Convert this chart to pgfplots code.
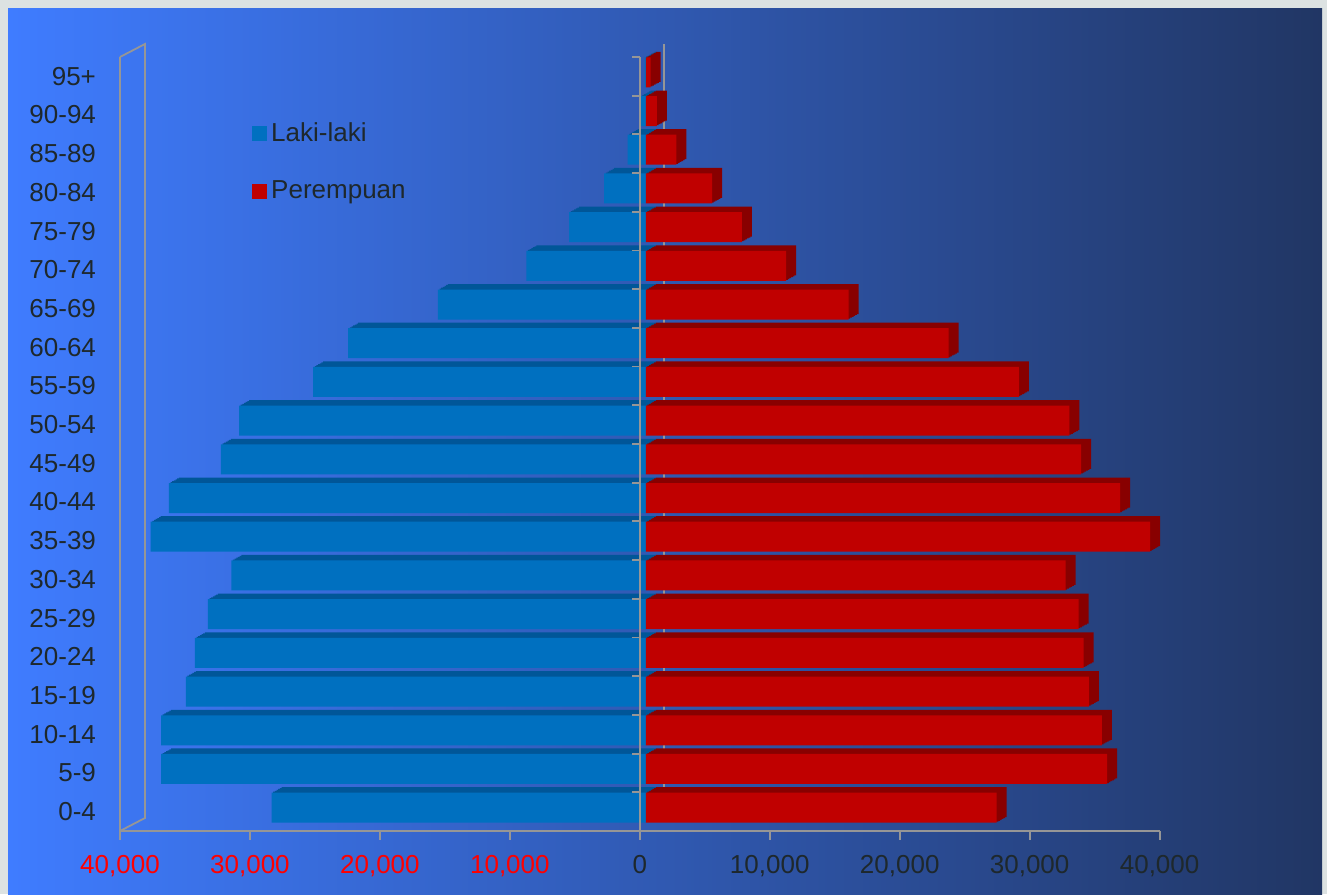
\documentclass[border=0pt]{standalone}
\usepackage{pgfplots}
\pgfplotsset{compat=1.18}
\usepackage{pgfplotstable}
\usepackage{fontspec}
\setmainfont{Liberation Sans}
\definecolor{laki}{RGB}{0,112,192}
\definecolor{lakid}{RGB}{0,86,152}
\definecolor{perem}{RGB}{192,0,0}
\definecolor{peremd}{RGB}{136,0,0}
\definecolor{txt}{RGB}{30,40,44}
\definecolor{axg}{RGB}{150,150,150}
\definecolor{bgl}{RGB}{63,124,255}
\definecolor{bgr}{RGB}{33,54,100}
\definecolor{frm}{RGB}{220,226,226}

\pgfplotstableread{
y laki perem
0 -28800 27000
1 -37300 35500
2 -37300 35100
3 -35400 34100
4 -34700 33700
5 -33700 33300
6 -31900 32300
7 -38100 38800
8 -36700 36500
9 -32700 33500
10 -31300 32600
11 -25600 28700
12 -22900 23300
13 -16000 15600
14 -9200 10800
15 -5900 7400
16 -3200 5100
17 -1400 2350
18 -400 860
19 -100 370
}\popdata

\pgfplotsset{bb/.style={forget plot, draw=none, bar shift=0pt}}

\begin{document}
\begin{tikzpicture}
\fill[frm] (0pt,0pt) rectangle (663.5pt,447pt);
\shade[left color=bgl, right color=bgr] (4pt,0pt) rectangle (661pt,442.5pt);
\begin{axis}[
  scale only axis, width=519.8pt, height=387pt,
  at={(60pt,31.5pt)}, anchor=south west,
  xmin=-40000, xmax=40000, ymin=-0.5, ymax=19.5,
  axis x line*=bottom, axis y line*=left,
  axis line style={axg, line width=0.9pt, -},
  xtick={-40000,-30000,-20000,-10000,0,10000,20000,30000,40000},
  xticklabels={{\textcolor{red}{40,000}},{\textcolor{red}{30,000}},{\textcolor{red}{20,000}},{\textcolor{red}{10,000}},{0},{10,000},{20,000},{30,000},{40,000}},
  ytick={0,...,19},
  yticklabels={0-4,5-9,10-14,15-19,20-24,25-29,30-34,35-39,40-44,45-49,50-54,55-59,60-64,65-69,70-74,75-79,80-84,85-89,90-94,95+},
  tick align=outside, major tick length=4.5pt,
  xtick style={axg, line width=0.9pt},
  ytick style={draw=none},
  tick label style={font=\fontsize{13}{15}\selectfont, text=txt},
  yticklabel style={xshift=-4pt},
  xticklabel style={yshift=-4pt},
  xbar, bar width=15pt,
  clip=false,
  legend style={at={(rel axis cs:0.127,0.921)}, anchor=north west, draw=none, fill=none,
    inner sep=0pt, row sep=14.25pt, font=\fontsize{13}{15}\selectfont, text=txt,
    /tikz/every even column/.append style={column sep=3pt}},
  legend cell align=left,
]
\draw[axg, line width=0.9pt] (axis cs:0,-0.5) ++(12pt,6.5pt) -- ++(0pt,387pt);
\draw[axg, line width=0.9pt] (axis cs:-40000,19.5) -- ++(12.5pt,6.5pt) -- ++(0pt,-387pt) -- (axis cs:-40000,-0.5);

\addplot[bb, fill=lakid, xshift=8pt, yshift=4.75pt] table[x=laki,y=y]{\popdata};
\addplot[bb, fill=lakid, xshift=7.17pt, yshift=4.29pt] table[x=laki,y=y]{\popdata};
\addplot[bb, fill=lakid, xshift=6.33pt, yshift=3.83pt] table[x=laki,y=y]{\popdata};
\addplot[bb, fill=lakid, xshift=5.5pt, yshift=3.38pt] table[x=laki,y=y]{\popdata};
\addplot[bb, fill=lakid, xshift=4.67pt, yshift=2.92pt] table[x=laki,y=y]{\popdata};
\addplot[bb, fill=lakid, xshift=3.83pt, yshift=2.46pt] table[x=laki,y=y]{\popdata};
\addplot[bb, fill=laki, xshift=3pt, yshift=2pt] table[x=laki,y=y]{\popdata};
\addplot[bb, fill=peremd, xshift=8pt, yshift=4.75pt] table[x=perem,y=y]{\popdata};
\addplot[bb, fill=peremd, xshift=7.17pt, yshift=4.29pt] table[x=perem,y=y]{\popdata};
\addplot[bb, fill=peremd, xshift=6.33pt, yshift=3.83pt] table[x=perem,y=y]{\popdata};
\addplot[bb, fill=peremd, xshift=5.5pt, yshift=3.38pt] table[x=perem,y=y]{\popdata};
\addplot[bb, fill=peremd, xshift=4.67pt, yshift=2.92pt] table[x=perem,y=y]{\popdata};
\addplot[bb, fill=peremd, xshift=3.83pt, yshift=2.46pt] table[x=perem,y=y]{\popdata};
\addplot[bb, fill=perem, xshift=3pt, yshift=2pt] table[x=perem,y=y]{\popdata};

\draw[axg, line width=0.9pt] (axis cs:0,-0.5) -- (axis cs:0,19.5);
\pgfplotsinvokeforeach{0,...,19}{
  \draw[axg, line width=0.9pt] (axis cs:0,#1+0.5) -- ++(-4pt,0pt);
}

\addlegendimage{legend image code/.code={\fill[laki] (0pt,-3.5pt) rectangle (7pt,3.5pt);}}
\addlegendentry{Laki-laki}
\addlegendimage{legend image code/.code={\fill[perem] (0pt,-3.5pt) rectangle (7pt,3.5pt);}}
\addlegendentry{Perempuan}
\end{axis}
\pgfresetboundingbox
\useasboundingbox (0pt,0pt) rectangle (663.5pt,447pt);
\end{tikzpicture}
\end{document}
